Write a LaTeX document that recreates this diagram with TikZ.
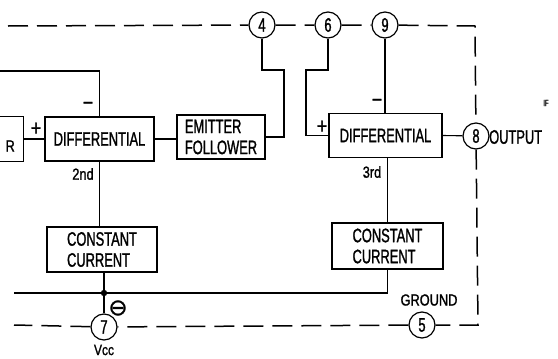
\documentclass[tikz,border=0pt]{standalone}
\usepackage{fontspec}
\setmainfont{Liberation Sans}
\newfontfamily\blockfont[FakeStretch=0.66, FakeBold=1.2]{Liberation Sans}
\newfontfamily\labelfont[FakeStretch=0.8, FakeBold=1.2]{Liberation Sans}
\newfontfamily\symfont[FakeBold=1]{DejaVu Sans}
\usetikzlibrary{positioning}

\begin{document}
\begin{tikzpicture}[x=1pt, y=-1pt,
    blk/.style={draw, line width=1.5pt, inner sep=0pt, font=\blockfont\fontsize{19.5}{21}\selectfont},
    pin/.style={circle, draw, line width=1.2pt, minimum size=26pt, inner sep=0pt, font=\blockfont\fontsize{19.5}{21}\selectfont},
    lbl/.style={font=\labelfont\fontsize{16}{19}\selectfont, inner sep=0pt},
    sgn/.style={font=\labelfont\fontsize{22}{22}\selectfont, inner sep=0pt},
    wire/.style={line width=1.1pt},
    pkg/.style={line width=1.5pt, dash pattern=on 20pt off 9pt}
]
    \useasboundingbox (0,0) rectangle (558,359);
    \clip (0,0) rectangle (558,359);

    % blocks
    \node[blk, minimum width=48pt, minimum height=45pt, anchor=east] (lb) at (24,139) {};
    \node[lbl, anchor=east] (lbt) at (15,146) {R};
    \node[blk, minimum width=109pt, minimum height=44pt] (d2) at (99.5,139) {DIFFERENTIAL};
    \node[blk, minimum width=88pt, minimum height=44pt, align=left] (ef) at (221,137) {EMITTER\\FOLLOWER};
    \node[blk, minimum width=113pt, minimum height=44pt] (d3) at (385.5,135.5) {DIFFERENTIAL};
    \node[blk, minimum width=110pt, minimum height=45pt, align=left] (cc1) at (102,249.5) {CONSTANT\\CURRENT};
    \node[blk, minimum width=111pt, minimum height=46pt, align=left] (cc2) at (387.5,246) {CONSTANT\\CURRENT};

    % pins
    \node[pin] (p4) at (262,25) {4};
    \node[pin] (p6) at (328,25) {6};
    \node[pin] (p9) at (385,25) {9};
    \node[pin] (p8) at (476,136) {8};
    \node[pin] (p7) at (104,327) {7};
    \node[pin] (p5) at (422,325) {5};

    % package outline
    \coordinate (tl) at (8,26);
    \coordinate (tr) at (475,26);
    \coordinate (br) at (478,325);
    \coordinate (bl) at (14,325);
    \draw[pkg] (tl) -- (p4) -- (p6) -- (p9) -- (tr) -- (p8) -- (br) -- (p5) -- (p7) -- (bl);

    % wiring
    \coordinate (fb) at (0,71);
    \coordinate (j) at (104,293);
    \coordinate (gl) at (14,293);
    \draw[wire] (fb) -| (d2.north);
    \draw[wire] (lb.east) -- (d2.west);
    \draw[wire] (d2.east) -- (ef.west |- d2.east);
    \draw[wire] (p4) |- (284,70) |- (ef.east);
    \draw[wire] (p6) |- (306,70) |- (d3.west);
    \draw[wire] (p9) -- (p9 |- d3.north);
    \draw[wire] (d3.east) -- (p8);
    \draw[wire] (d2.south) -- (d2.south |- cc1.north);
    \draw[wire] (d3.south -| cc2.north) -- (cc2.north);
    \draw[wire] (cc1.south -| j) -- (j) -- (p7);
    \draw[wire] (cc2.south) |- (gl);
    \fill (j) circle (3.2pt);

    % labels
    \node[sgn] (pl2) at (36,129) {+};
    \node[sgn] (mi2) at (88,106) {−};
    \node[lbl] (n2) at (83,174) {2nd};
    \node[sgn] (pl3) at (322,127) {+};
    \node[sgn] (mi3) at (377,103) {−};
    \node[lbl] (n3) at (372,172) {3rd};
    \node[anchor=west, inner sep=0pt, font=\blockfont\fontsize{19.5}{21}\selectfont] (out) at (489,137) {OUTPUT};
    \node[lbl] (gnd) at (429,300) {GROUND};
    \node[inner sep=0pt, font=\labelfont\fontsize{15}{17}\selectfont] (vcc) at (104,350) {Vcc};
    \node[font=\symfont\fontsize{23}{23}\selectfont, inner sep=0pt] (neg) at (118,308) {⊖};
    \node[font=\blockfont\fontsize{9}{9}\selectfont, inner sep=0pt] (mark) at (546,103) {IF};
\end{tikzpicture}
\end{document}
